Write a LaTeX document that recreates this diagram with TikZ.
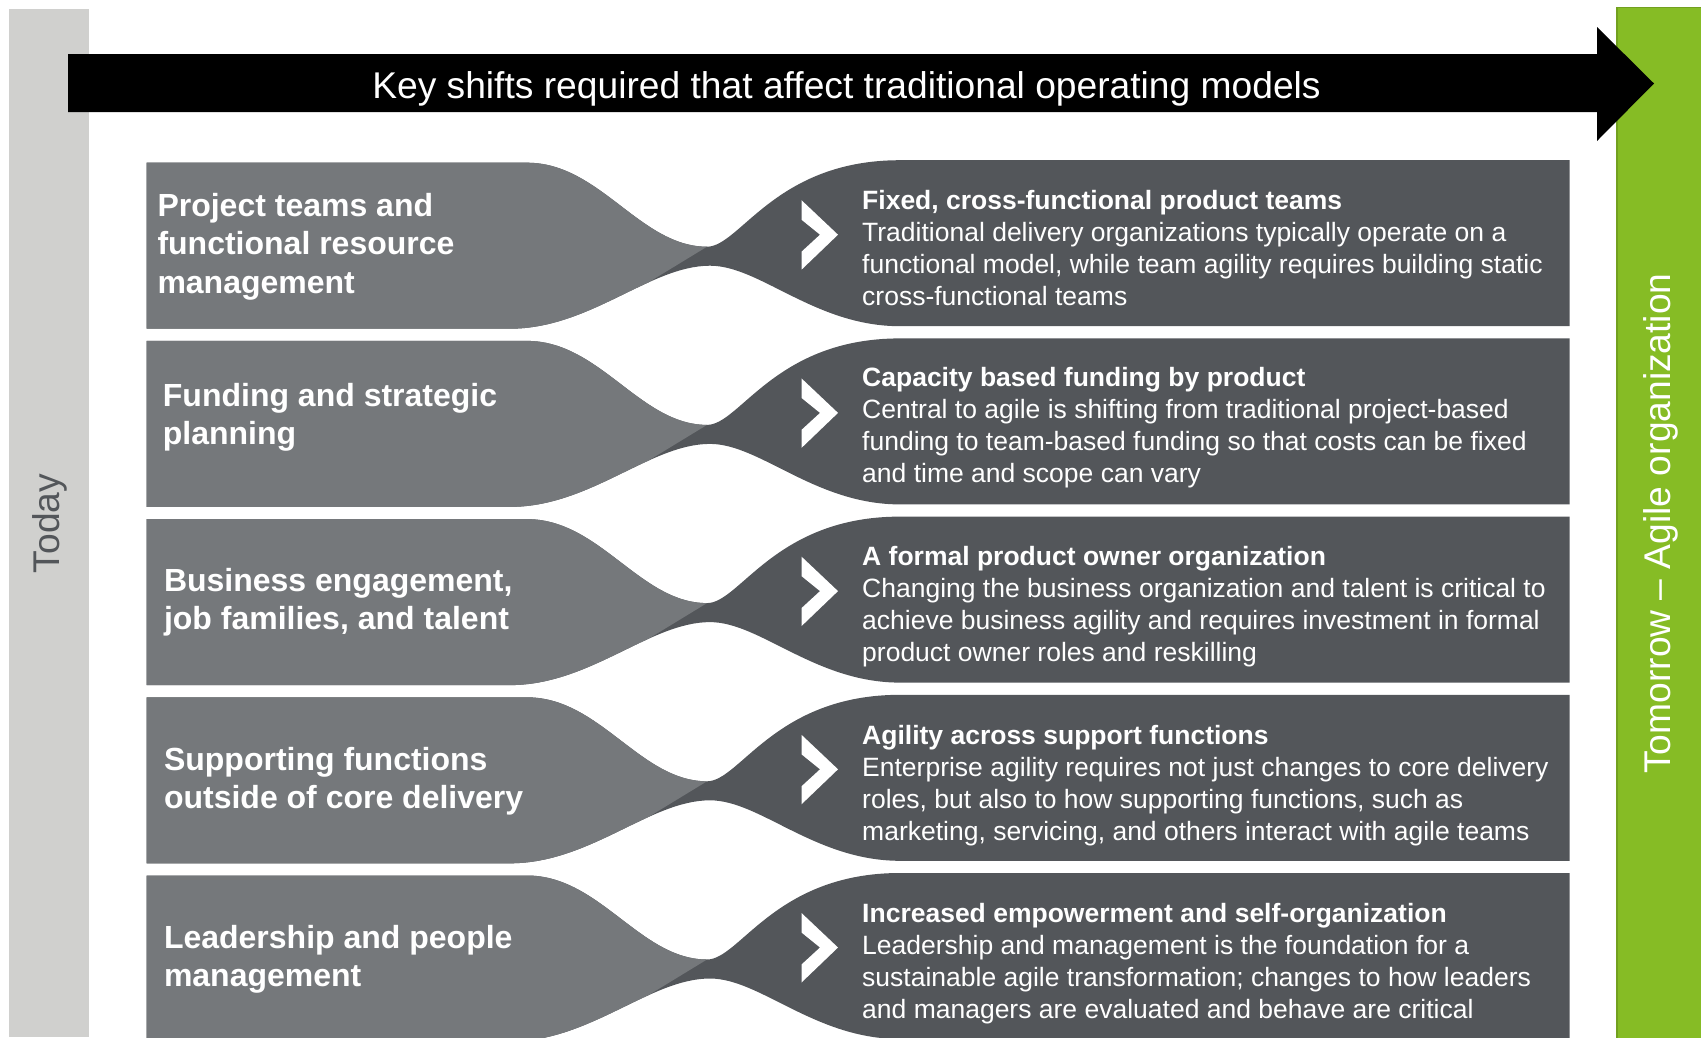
\documentclass[tikz,border=0pt]{standalone}
\usepackage{fontspec}
\setmainfont{Liberation Sans}
\usepackage{tikz}
\usetikzlibrary{positioning}

\definecolor{todaygray}{HTML}{D0D0CE}
\definecolor{lightrow}{HTML}{75787B}
\definecolor{darkrow}{HTML}{53565A}
\definecolor{agilegreen}{HTML}{86BC25}

% one row: light box on the left, dark box on the right, white chevron
\newcommand{\shiftband}[1]{%
  \begin{scope}[shift={(#1)}]
    \begin{scope}
      \clip (146.5,0) -- (527,0) .. controls (600,0) and (640,84) .. (707,84)
        .. controls (740,84) and (775,-2.5) .. (900,-2.5) -- (1569.5,-2.5)
        -- (1569.5,163.5) -- (900,163.5) .. controls (815,163.5) and (760,103) .. (710,103)
        .. controls (650,103) and (590,166) .. (510,166) -- (146.5,166) -- cycle;
      \fill[darkrow] (140,-10) rectangle (1580,180);
      \fill[lightrow] (140,-10) -- (707,-10) -- (707,84) -- (556,176) -- (140,176) -- cycle;
    \end{scope}
    \fill[white] (801.5,37.5) -- (838,72) -- (801.5,107) -- (801.5,89) -- (820,72) -- (801.5,57) -- cycle;
  \end{scope}}

\begin{document}
\begin{tikzpicture}[x=1pt, y=-1pt,
    lefttext/.style={text=white, font=\fontsize{32}{38.5}\selectfont\bfseries, align=left, inner sep=0pt, anchor=west},
    righttext/.style={text=white, font=\fontsize{26.5}{32}\selectfont, align=left, inner sep=0pt, anchor=west},
    sidetext/.style={rotate=90, font=\fontsize{37.2}{44}\selectfont, inner sep=0pt}]
    \useasboundingbox (0,0) rectangle (1701,1037);

    % side bars
    \fill[todaygray] (8.7,8.7) rectangle (89,1037);
    \draw[fill=agilegreen, draw=agilegreen!85!black, line width=1.5] (1617,7.6) rectangle (1702,1040);

    % big arrow
    \fill[black] (68,54) -- (1597,54) -- (1597,27) -- (1654,83.5) -- (1597,141) -- (1597,112) -- (68,112) -- cycle;
    \node[text=white, font=\fontsize{37.2}{44}\selectfont, inner sep=0pt] (title) at (846.5,88.5) {Key shifts required that affect traditional operating models};

    \node[sidetext, text=darkrow] (today) at (49.5,523.5) {Today};
    \node[sidetext, text=white] (tomorrow) at (1661,523.5) {Tomorrow – Agile organization};

    % rows
    \coordinate (row1) at (0,162.7);
    \coordinate [below=178.2pt of row1] (row2) {};
    \coordinate [below=178.2pt of row2] (row3) {};
    \coordinate [below=178.2pt of row3] (row4) {};
    \coordinate [below=178.2pt of row4] (row5) {};

    \shiftband{row1}
    \shiftband{row2}
    \shiftband{row3}
    \shiftband{row4}
    \shiftband{row5}

    \node[lefttext] (from_1) at (157.3,246.3) {Project teams and\\functional resource\\management};
    \node[lefttext] (from_2) at (162.7,417.3) {Funding and strategic\\planning};
    \node[lefttext] (from_3) at (163.8,602.3) {Business engagement,\\job families, and talent};
    \node[lefttext] (from_4) at (163.8,781.3) {Supporting functions\\outside of core delivery};
    \node[lefttext] (from_5) at (163.8,959.3) {Leadership and people\\management};

    \node[righttext] (to_1) at (862,248.5) {\textbf{Fixed, cross-functional product teams}\\Traditional delivery organizations typically operate on a\\functional model, while team agility requires building static\\cross-functional teams};
    \node[righttext] (to_2) at (862,428) {\textbf{Capacity based funding by product}\\Central to agile is shifting from traditional project-based\\funding to team-based funding so that costs can be fixed\\and time and scope can vary};
    \node[righttext] (to_3) at (862,607) {\textbf{A formal product owner organization}\\Changing the business organization and talent is critical to\\achieve business agility and requires investment in formal\\product owner roles and reskilling};
    \node[righttext] (to_4) at (862,786) {\textbf{Agility across support functions}\\Enterprise agility requires not just changes to core delivery\\roles, but also to how supporting functions, such as\\marketing, servicing, and others interact with agile teams};
    \node[righttext] (to_5) at (862,964) {\textbf{Increased empowerment and self-organization}\\Leadership and management is the foundation for a\\sustainable agile transformation; changes to how leaders\\and managers are evaluated and behave are critical};
\end{tikzpicture}
\end{document}
